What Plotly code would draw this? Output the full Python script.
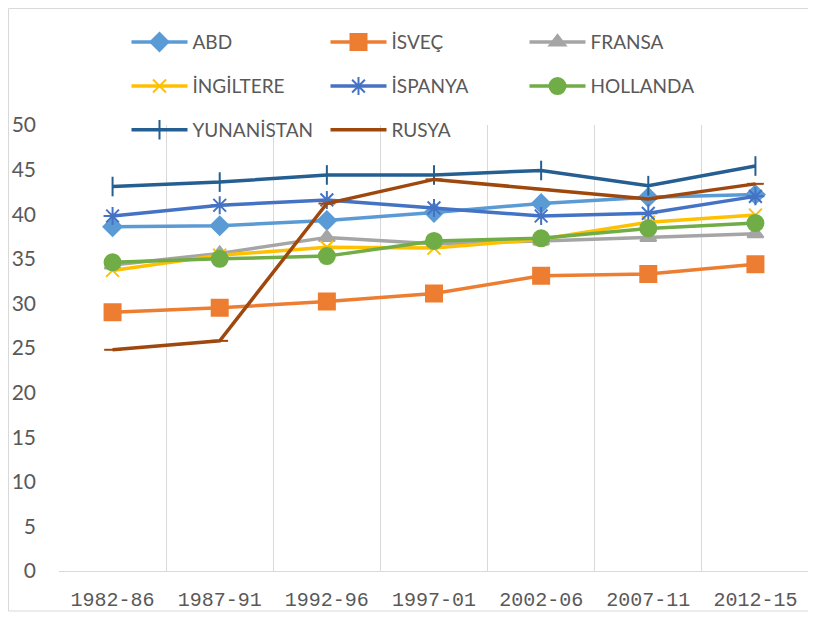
import plotly.graph_objects as go

periods = ["1982-86", "1987-91", "1992-96", "1997-01", "2002-06", "2007-11", "2012-15"]

abd = [38.6, 38.7, 39.3, 40.2, 41.2, 41.9, 42.2]
isvec = [29.0, 29.5, 30.2, 31.1, 33.1, 33.3, 34.4]
fransa = [34.3, 35.6, 37.4, 36.7, 37.0, 37.4, 37.8]
ingiltere = [33.7, 35.4, 36.3, 36.2, 37.2, 39.1, 39.9]
ispanya = [39.8, 41.0, 41.6, 40.7, 39.8, 40.1, 42.0]
hollanda = [34.6, 35.0, 35.3, 37.0, 37.3, 38.4, 39.0]
yunanistan = [43.1, 43.6, 44.4, 44.4, 44.9, 43.2, 45.4]
rusya = [24.8, 25.8, 41.2, 43.9, 42.8, 41.7, 43.4]

GREY = "#595959"
GRID = "#D9D9D9"
FONT = "Lato"

# name, values, colour, symbol, size, legend row
series = [
    ("ABD", abd, "#5B9BD5", "diamond", 14, "legend"),
    ("İSVEÇ", isvec, "#ED7D31", "square", 16, "legend"),
    ("FRANSA", fransa, "#A5A5A5", "triangle-up", 14, "legend"),
    ("İNGİLTERE", ingiltere, "#FFC000", "x-thin-open", 13, "legend2"),
    ("İSPANYA", ispanya, "#4472C4", "asterisk-open", 15, "legend2"),
    ("HOLLANDA", hollanda, "#70AD47", "circle", 16, "legend2"),
    ("YUNANİSTAN", yunanistan, "#255E91", "line-ns-open", 14, "legend3"),
    ("RUSYA", rusya, "#9E480E", "line-ew-open", 12, "legend3"),
]

fig = go.Figure()
for name, vals, col, sym, size, leg in series:
    fig.add_trace(go.Scatter(
        x=periods, y=vals, name=name, mode="lines+markers",
        line=dict(color=col, width=3.5),
        marker=dict(symbol=sym, size=size, color=col,
                    line=dict(color=col, width=2)),
        legend=leg,
    ))

leg_common = dict(orientation="h", xanchor="left", yanchor="middle",
                  entrywidth=128, entrywidthmode="pixels", itemwidth=56,
                  font=dict(family=FONT, size=19, color=GREY),
                  bgcolor="rgba(0,0,0,0)")

# the page body adds ~8px offset, so margins are set relative to that
fig.update_layout(
    width=816, height=618,
    margin=dict(l=51, r=15, t=117, b=55, autoexpand=False),
    paper_bgcolor="white", plot_bgcolor="white",
    font=dict(family=FONT, color=GREY),
    legend=dict(x=0.090, y=1.186, **leg_common),
    legend2=dict(x=0.090, y=1.087, **leg_common),
    legend3=dict(x=0.090, y=0.989, **leg_common),
    shapes=[dict(type="rect", xref="paper", yref="paper",
                 x0=-0.0673, x1=1.0253, y0=-0.0897, y1=1.2612,
                 line=dict(color=GRID, width=1))],
)
fig.update_xaxes(
    type="category", range=[-0.5, 6.5], tickson="boundaries",
    showgrid=True, gridcolor=GRID, gridwidth=1,
    showline=True, linecolor=GRID, linewidth=1, ticks="",
    tickfont=dict(family="Liberation Mono", size=20, color=GREY),
    ticklabelstandoff=10,
)
fig.update_yaxes(
    range=[0, 50], dtick=5, showgrid=False, zeroline=False,
    showline=False, ticks="",
    tickfont=dict(family=FONT, size=21, color=GREY), ticklabelstandoff=22,
)

fig.write_html("out.html")
